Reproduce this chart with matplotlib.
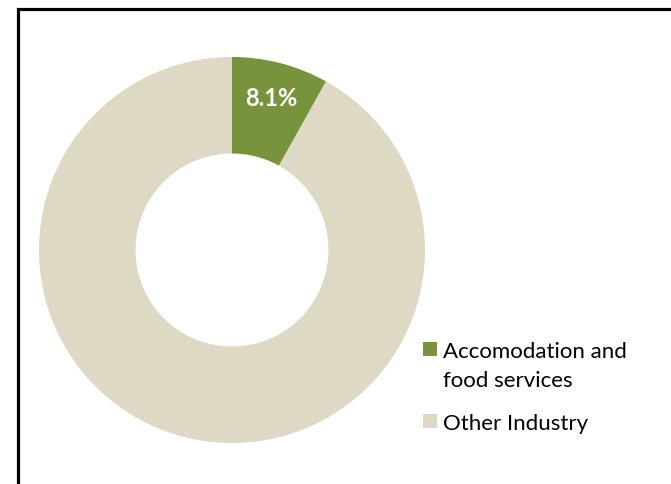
import numpy as np
import matplotlib
matplotlib.use("Agg")
import matplotlib.pyplot as plt
from matplotlib.patches import Rectangle

categories = ["Accomodation and\nfood services", "Other Industry"]
shares = [8.1, 91.9]
colors = ["#77933C", "#DDD9C4"]

W, H = 671, 485
fig = plt.figure(figsize=(W / 100, H / 100), dpi=100)
plt.rcParams['font.family'] = ['Lato', 'DejaVu Sans']

# frame around the chart area (runs off the right and bottom edges)
fig.patches.append(Rectangle((18 / W, -0.1), 1.2, (H - 9.5) / H + 0.1,
                             transform=fig.transFigure, fill=False,
                             edgecolor="black", linewidth=2.3))

cx, cy, r = 232, 251, 193
ax = fig.add_axes([(cx - r) / W, (H - cy - r) / H, 2 * r / W, 2 * r / H])
wedges, _ = ax.pie(shares, colors=colors, startangle=90, counterclock=False,
                   radius=1, wedgeprops=dict(width=0.5, linewidth=0))
ax.set_xlim(-1, 1)
ax.set_ylim(-1, 1)
ax.set_aspect("equal")

w = wedges[0]
mid = np.deg2rad((w.theta1 + w.theta2) / 2)
ax.text(0.815 * np.cos(mid), 0.815 * np.sin(mid), f"{shares[0]}%",
        ha="center", va="center", color="white", fontsize=17, fontweight="bold")

# legend, drawn by hand so the square sits on the first text line
baselines = [358, 430]
for label, col, base in zip(categories, colors, baselines):
    fig.patches.append(Rectangle((423 / W, 1 - (base - 1) / H), 14 / W, 14 / H,
                                 transform=fig.transFigure, facecolor=col,
                                 edgecolor="none"))
    for i, line in enumerate(label.split("\n")):
        fig.text(443 / W, 1 - (base + 29 * i) / H, line, fontsize=16,
                 va="baseline", ha="left", color="black")

fig.savefig("out.png", dpi=100)
